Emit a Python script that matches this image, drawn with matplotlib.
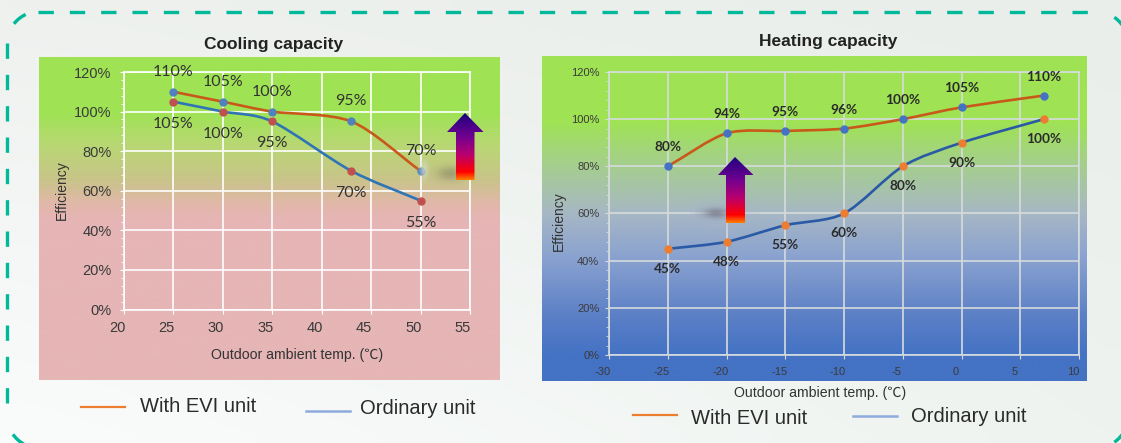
import numpy as np
import matplotlib
matplotlib.use("Agg")
import matplotlib.pyplot as plt
from matplotlib.colors import LinearSegmentedColormap, to_rgb
from matplotlib.patches import PathPatch, Polygon
from matplotlib.path import Path
from matplotlib.ticker import MultipleLocator, FuncFormatter
from matplotlib.transforms import ScaledTranslation

# ---- data ----
cool_x_evi = [25, 30, 35, 43, 50]
cool_evi = [110, 105, 100, 95, 70]
cool_x_ord = [25, 30, 35, 43, 50]
cool_ord = [105, 100, 95, 70, 55]
heat_x = [-25, -20, -15, -10, -5, 0, 7]
heat_evi = [80, 94, 95, 96, 100, 105, 110]
heat_ord = [45, 48, 55, 60, 80, 90, 100]
legend_labels = ["With EVI unit", "Ordinary unit"]
cool_title = "Cooling capacity"
heat_title = "Heating capacity"
cool_xlabel = "Outdoor ambient temp. (℃)"
heat_xlabel = "Outdoor ambient temp. (℃)"
ylabel = "Efficiency"

W, H = 1121, 443
plt.rcParams['font.family'] = ['Liberation Sans', 'Noto Sans CJK SC', 'DejaVu Sans']
plt.rcParams['axes.unicode_minus'] = False
TXT = "#2a2a2a"
fig = plt.figure(figsize=(W / 100, H / 100), dpi=100)

# page layer in pixel coordinates
bg = fig.add_axes([0, 0, 1, 1], zorder=0)
bg.set_xlim(0, W); bg.set_ylim(H, 0); bg.axis("off")

# overlay layer in pixel coordinates
top = fig.add_axes([0, 0, 1, 1], zorder=3)
top.set_xlim(0, W); top.set_ylim(H, 0); top.axis("off"); top.patch.set_alpha(0)

def c(h):
    return np.array(to_rgb(h))

# page background
tl, tr, bl, br = c("#eef1ee"), c("#e9eeea"), c("#fafcfc"), c("#eef3ef")
u, v = np.meshgrid(np.linspace(0, 1, 60), np.linspace(0, 1, 30))
page = ((1 - u) * (1 - v))[..., None] * tl + (u * (1 - v))[..., None] * tr + \
       ((1 - u) * v)[..., None] * bl + (u * v)[..., None] * br
bg.imshow(page, extent=(0, W, H, 0), aspect="auto", zorder=0, interpolation="bilinear")

# dashed rounded frame, drawn piece by piece so the dash phase matches
TEAL = "#00B89A"
FL, FR, FT, FB, R = 7.2, 1128.0, 11.5, 448.0, 32.0
dash = (0, (4.6, 4.8))
bg.plot([38, FR - R + 3], [FT, FT], color=TEAL, lw=2.4, linestyle=dash, zorder=1, dash_capstyle="butt")
bg.plot([FL, FL], [43, FB - R + 2], color=TEAL, lw=2.4, linestyle=dash, zorder=1, dash_capstyle="butt")
def corner(cx, cy, a0, a1):
    t = np.radians(np.linspace(a0, a1, 12))
    bg.plot(cx + R * np.cos(t), cy + R * np.sin(t), color=TEAL, lw=2.4, zorder=1,
            solid_capstyle="butt", clip_on=True)
corner(FL + R, FT + R, 218, 245)     # top-left
corner(FL + R, FB - R, 118, 145)     # bottom-left
corner(FR - R, FT + R, 305, 325)     # top-right
corner(FR - R, FB - R, 35, 55)       # bottom-right

def vgrad(stops, n=400):
    cm = LinearSegmentedColormap.from_list("g", stops)
    return cm(np.linspace(0, 1, n))[:, None, :3]

# panels
bg.imshow(vgrad([(0, "#9FE354"), (0.17, "#9FE354"), (0.27, "#B8D873"), (0.38, "#C9C48A"),
                 (0.45, "#E0B8A8"), (0.5, "#E6B5B5"), (1, "#E6B5B5")]),
          extent=(38.5, 499, 380, 57), aspect="auto", zorder=2)
bg.imshow(vgrad([(0, "#9FE354"), (0.2, "#9FE354"), (0.33, "#A5CF8C"), (0.48, "#A7B8C4"),
                 (0.62, "#8AA2D0"), (0.8, "#5C80C6"), (0.92, "#4472C4"), (1, "#4472C4")]),
          extent=(542, 1087, 381, 56), aspect="auto", zorder=2)

# blurred smudges next to the arrows (above the grid, as in the picture)
def smudge(x0, x1, y0, y1, cx, cy, sx, sy, col, a):
    xx, yy = np.meshgrid(np.linspace(x0, x1, 60), np.linspace(y0, y1, 40))
    al = a * np.exp(-((xx - cx) / sx) ** 2 - ((yy - cy) / sy) ** 2)
    im = np.dstack([np.full_like(al, col[0]), np.full_like(al, col[1]), np.full_like(al, col[2]), al])
    top.imshow(im, extent=(x0, x1, y1, y0), aspect="auto", zorder=1, interpolation="bilinear")

smudge(415, 440, 158, 185, 424, 170, 4, 9, c("#D8DCC8"), 0.75)
smudge(422, 482, 162, 200, 450, 174, 13, 7, c("#7a7a60"), 0.5)
smudge(690, 760, 195, 240, 720, 215, 30, 14, c("#A9B4CC"), 0.55)
smudge(695, 760, 200, 235, 716, 213, 12, 5, c("#60606a"), 0.55)

def arrow(tip_x, tip_y, head_y, hx0, hx1, sx0, sx1, bot):
    pts = [(tip_x, tip_y), (hx1, head_y), (sx1, head_y), (sx1, bot), (sx0, bot), (sx0, head_y), (hx0, head_y)]
    im = top.imshow(vgrad([(0, "#1C0080"), (0.35, "#700090"), (0.62, "#B80070"),
                           (0.88, "#FF0000"), (1, "#FF8000")]),
                    extent=(hx0, hx1, bot, tip_y), aspect="auto", zorder=2)
    poly = Polygon(pts, closed=True, transform=top.transData, fc="none", ec="none")
    top.add_patch(poly)
    im.set_clip_path(poly)

arrow(465, 113, 132, 447, 483.5, 456, 474.5, 180)
arrow(735, 157, 175, 718, 753.5, 726, 745, 223)
bg.set_xlim(0, W); bg.set_ylim(H, 0)

def smooth(ax, xs, ys, color, lw):
    xs = np.asarray(xs, float); ys = np.asarray(ys, float)
    tx = np.gradient(xs); ty = np.gradient(ys)
    verts = [(xs[0], ys[0])]; codes = [Path.MOVETO]
    for i in range(len(xs) - 1):
        h = 1 / 3 * 0.85
        verts += [(xs[i] + tx[i] * h, ys[i] + ty[i] * h),
                  (xs[i + 1] - tx[i + 1] * h, ys[i + 1] - ty[i + 1] * h),
                  (xs[i + 1], ys[i + 1])]
        codes += [Path.CURVE4] * 3
    ax.add_patch(PathPatch(Path(verts, codes), fc="none", ec=color, lw=lw, zorder=3))

def make_axes(px0, px1, ptop, pbot, xlo, xhi, gridc, tick_fs, shift_x, pad, ypad):
    ax = fig.add_axes([px0 / W, 1 - pbot / H, (px1 - px0) / W, (pbot - ptop) / H], zorder=2)
    ax.patch.set_alpha(0)
    ax.set_xlim(xlo, xhi); ax.set_ylim(0, 120)
    ax.xaxis.set_major_locator(MultipleLocator(5))
    ax.yaxis.set_major_locator(MultipleLocator(20))
    ax.yaxis.set_minor_locator(MultipleLocator(4))
    ax.yaxis.set_major_formatter(FuncFormatter(lambda v, p: f"{v:.0f}%"))
    ax.grid(True, which="major", color=gridc, lw=1.2)
    ax.set_axisbelow(True)
    for s in ax.spines.values():
        s.set_color(gridc); s.set_linewidth(1.2)
    ax.tick_params(axis="both", which="major", length=3, color=gridc, labelsize=tick_fs, labelcolor="#3a3a3a")
    ax.tick_params(axis="y", which="minor", length=2, color=gridc)
    ax.tick_params(axis="x", which="major", pad=pad)
    ax.tick_params(axis="y", which="major", pad=ypad)
    off = ScaledTranslation(shift_x / 100, 0, fig.dpi_scale_trans)
    for t in ax.get_xticklabels():
        t.set_transform(t.get_transform() + off)
    return ax

LBL = ['Lato', 'DejaVu Sans']
# ---- cooling ----
ax1 = make_axes(124, 470, 72, 309.5, 20, 55, "#ffffff", 10.5, -7, 5.5, 6)
smooth(ax1, cool_x_evi, cool_evi, "#C8591A", 1.9)
smooth(ax1, cool_x_ord, cool_ord, "#2F75B5", 1.9)
ax1.plot(cool_x_evi, cool_evi, "o", ms=5, color="#4F81BD", zorder=4)
ax1.plot(cool_x_ord, cool_ord, "o", ms=5, color="#C0504D", zorder=4)
for x, y in zip(cool_x_evi, cool_evi):
    ax1.annotate(f"{y}%", (x, y), xytext=(0, 20), textcoords="offset pixels", ha="center",
                 va="center", fontsize=11.5, color="#333333", zorder=5, family=LBL)
for x, y in zip(cool_x_ord, cool_ord):
    ax1.annotate(f"{y}%", (x, y), xytext=(0, -22), textcoords="offset pixels", ha="center",
                 va="center", fontsize=11.5, color="#333333", zorder=5, family=LBL)

# ---- heating ----
ax2 = make_axes(609, 1079, 72, 355, -30, 10, "#D6DCDC", 8, -6, 5.5, 4)
smooth(ax2, heat_x, heat_evi, "#C8591A", 1.9)
smooth(ax2, heat_x, heat_ord, "#2A5AA5", 1.9)
ax2.plot(heat_x, heat_evi, "o", ms=5, color="#4472C4", zorder=4)
ax2.plot(heat_x, heat_ord, "o", ms=5, color="#ED7D31", zorder=4)
for x, y in zip(heat_x, heat_evi):
    ax2.annotate(f"{y}%", (x, y), xytext=(0, 19), textcoords="offset pixels", ha="center",
                 va="center", fontsize=9.8, fontweight="bold", color="#2a2a2a", zorder=5, family=LBL)
for x, y in zip(heat_x, heat_ord):
    ax2.annotate(f"{y}%", (x, y), xytext=(0, -20), textcoords="offset pixels", ha="center",
                 va="center", fontsize=9.8, fontweight="bold", color="#2a2a2a", zorder=5, family=LBL)

# ---- texts (overlay) ----
top.text(274, 44, cool_title, ha="center", va="center", fontsize=12.5, fontweight="bold", color="#222222")
top.text(828, 41, heat_title, ha="center", va="center", fontsize=12.5, fontweight="bold", color="#222222")
top.text(62, 190, ylabel, rotation=90, ha="center", va="center", fontsize=10, color="#333333")
top.text(559, 221, ylabel, rotation=90, ha="center", va="center", fontsize=10, color="#333333")
top.text(297, 355, cool_xlabel, ha="center", va="center", fontsize=10.2, color="#333333")
top.text(820, 393, heat_xlabel, ha="center", va="center", fontsize=10.2, color="#333333")

ORG, BLU = "#ED7D31", "#8FAADC"
top.plot([81, 125], [407, 407], color=ORG, lw=1.6)
top.plot([306, 350], [411, 411], color=BLU, lw=1.8)
top.plot([633, 677], [415, 415], color=ORG, lw=1.6)
top.plot([853, 897], [416, 416], color=BLU, lw=1.8)
fs = 14.5
top.text(140.5, 407, legend_labels[0], va="center", fontsize=fs, color=TXT)
top.text(359.5, 408, legend_labels[1], va="center", fontsize=fs, color=TXT)
top.text(691, 419, legend_labels[0], va="center", fontsize=fs, color=TXT)
top.text(911, 416, legend_labels[1], va="center", fontsize=fs, color=TXT)
top.set_xlim(0, W); top.set_ylim(H, 0)

fig.savefig("out.png", dpi=100)
